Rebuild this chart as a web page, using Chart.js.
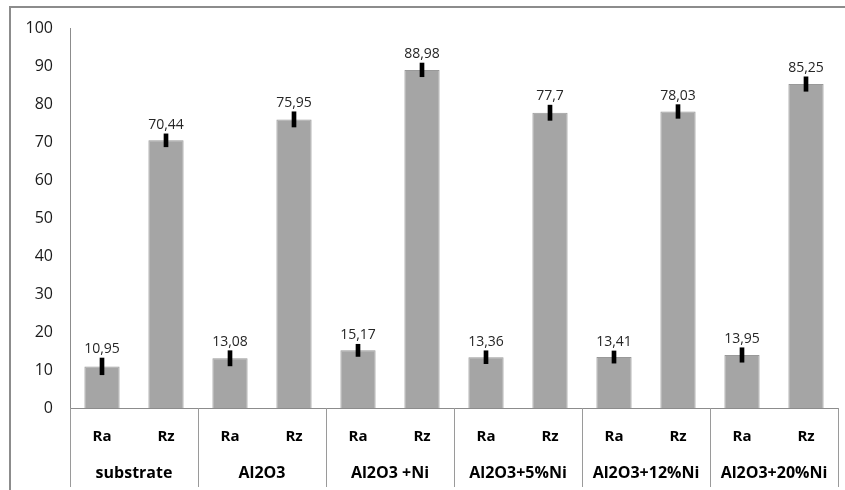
<!DOCTYPE html>
<html>
<head>
<meta charset="utf-8">
<script src="https://cdn.jsdelivr.net/npm/chart.js@4/dist/chart.umd.min.js"></script>
<style>
  html, body { margin: 0; padding: 0; background: #fff; }
  #wrap { position: relative; width: 845px; height: 490px; }
</style>
</head>
<body>
<div id="wrap"><canvas id="chart" width="845" height="490"></canvas></div>
<script>
// data
var groups = ['substrate', 'Al2O3', 'Al2O3 +Ni', 'Al2O3+5%Ni', 'Al2O3+12%Ni', 'Al2O3+20%Ni'];
var params = ['Ra', 'Rz'];
var raValues = [10.95, 13.08, 15.17, 13.36, 13.41, 13.95];
var rzValues = [70.44, 75.95, 88.98, 77.7, 78.03, 85.25];
var raErrors = [2.2, 2.0, 1.6, 1.7, 1.6, 1.9];
var rzErrors = [1.7, 2.0, 1.8, 2.0, 1.8, 1.9];
var yTicks = [0, 10, 20, 30, 40, 50, 60, 70, 80, 90, 100];

// flatten to Ra, Rz, Ra, Rz ...
var labels = [], values = [], errors = [];
groups.forEach(function (g, i) {
    labels.push(params[0]); values.push(raValues[i]); errors.push(raErrors[i]);
    labels.push(params[1]); values.push(rzValues[i]); errors.push(rzErrors[i]);
});
var errorRanges = values.map(function (v, i) { return [v - errors[i], v + errors[i]]; });

// outer frame + group dividers below the axis
var framePlugin = {
    id: 'frame',
    afterDraw: function (chart) {
        var c = chart.ctx, x = chart.scales.x;
        c.save();
        c.strokeStyle = '#8c8c8c';
        c.lineWidth = 2;
        c.beginPath();
        c.moveTo(10, 490); c.lineTo(10, 7); c.lineTo(845, 7);
        c.stroke();
        c.strokeStyle = '#9a9a9a';
        c.lineWidth = 1;
        for (var k = 0; k <= groups.length; k++) {
            var px;
            if (k == 0) px = x.left;
            else if (k == groups.length) px = x.right;
            else px = (x.getPixelForValue(2 * k - 1) + x.getPixelForValue(2 * k)) / 2;
            px = Math.round(px) + 0.5;
            c.beginPath();
            c.moveTo(px, x.top);
            c.lineTo(px, 487);
            c.stroke();
        }
        c.restore();
    }
};

// value labels above the error bars
var valueLabels = {
    id: 'valueLabels',
    afterDatasetsDraw: function (chart) {
        var c = chart.ctx, x = chart.scales.x, y = chart.scales.y;
        c.save();
        c.font = '14px "Open Sans"';
        c.fillStyle = '#262626';
        c.textAlign = 'center';
        c.textBaseline = 'bottom';
        values.forEach(function (v, i) {
            var px = x.getPixelForValue(i);
            var py = y.getPixelForValue(v + errors[i]) - 2;
            c.fillText(String(v).replace('.', ','), px, py);
        });
        c.restore();
    }
};

new Chart(document.getElementById('chart'), {
    type: 'bar',
    data: {
        labels: labels,
        datasets: [{
            data: errorRanges,
            backgroundColor: '#000',
            borderWidth: 0,
            barThickness: 4,
            grouped: false,
            order: 0
        }, {
            data: values,
            backgroundColor: '#a5a5a5',
            borderColor: '#999999',
            borderWidth: 1,
            categoryPercentage: 1,
            barPercentage: 0.55,
            grouped: false,
            order: 1
        }]
    },
    options: {
        responsive: false,
        animation: false,
        layout: { padding: { top: 28, right: 7, left: 0, bottom: 0 } },
        plugins: {
            legend: { display: false },
            tooltip: { enabled: false }
        },
        scales: {
            y: {
                min: 0,
                max: 100,
                afterBuildTicks: function (scale) {
                    scale.ticks = yTicks.map(function (t) { return { value: t }; });
                },
                afterFit: function (scale) { scale.width = 70; },
                grid: { display: false, drawTicks: false },
                border: { display: true, color: '#8c8c8c', width: 1 },
                ticks: {
                    padding: 17,
                    color: '#1a1a1a',
                    font: { family: 'Open Sans', size: 16 }
                }
            },
            x: {
                afterFit: function (scale) { scale.height = 50; },
                grid: { display: false, drawTicks: false },
                border: { display: true, color: '#8c8c8c', width: 1 },
                ticks: {
                    padding: 20,
                    color: '#000',
                    maxRotation: 0,
                    autoSkip: false,
                    font: { family: 'Open Sans', size: 15, weight: 'bold' }
                }
            },
            x2: {
                type: 'category',
                labels: groups,
                position: 'bottom',
                offset: true,
                afterFit: function (scale) { scale.height = 32; },
                grid: { display: false, drawTicks: false },
                border: { display: false },
                ticks: {
                    padding: 6,
                    color: '#000',
                    maxRotation: 0,
                    autoSkip: false,
                    font: { family: 'Open Sans', size: 16, weight: 'bold' }
                }
            }
        }
    },
    plugins: [framePlugin, valueLabels]
});
</script>
</body>
</html>
